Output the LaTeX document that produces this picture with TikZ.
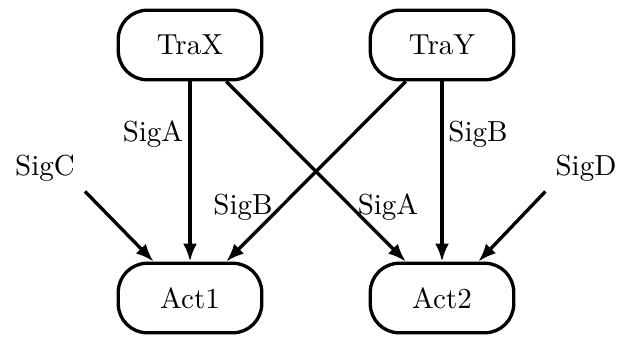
\documentclass[tikz,border=0pt]{standalone}
\usetikzlibrary{arrows.meta}
\begin{document}
\begin{tikzpicture}[x=0.345pt,y=-0.345pt,
  box/.style={draw,line width=1.15pt,rounded corners=10pt,minimum width=49.5pt,minimum height=24pt,inner sep=0pt},
  lbl/.style={inner sep=0pt},
  sig/.style={inner sep=3.33pt},
  conn/.style={line width=1.15pt,-{Latex[length=6.2pt,width=4.8pt]}}]
\useasboundingbox (0,0) rectangle (626,336);
\node[box] (TraX) at (190,45) {TraX};
\node[box] (TraY) at (442,45) {TraY};
\node[box] (Act1) at (190,298) {Act1};
\node[box] (Act2) at (442,298) {Act2};
\node[sig] (SigC) at (45,168) {SigC};
\node[sig] (SigD) at (586,168) {SigD};
\node[lbl] (la1) at (153,134) {SigA};
\node[lbl] (lb1) at (478,134) {SigB};
\node[lbl] (lb2) at (243,207) {SigB};
\node[lbl] (la2) at (388,207) {SigA};
\draw[conn] (TraX) -- (Act1);
\draw[conn] (TraY) -- (Act2);
\draw[conn] (TraX) -- (Act2);
\draw[conn] (TraY) -- (Act1);
\draw[conn] (SigC.south east) -- (Act1.135);
\draw[conn] (SigD.south west) -- (Act2.45);
\end{tikzpicture}
\end{document}
